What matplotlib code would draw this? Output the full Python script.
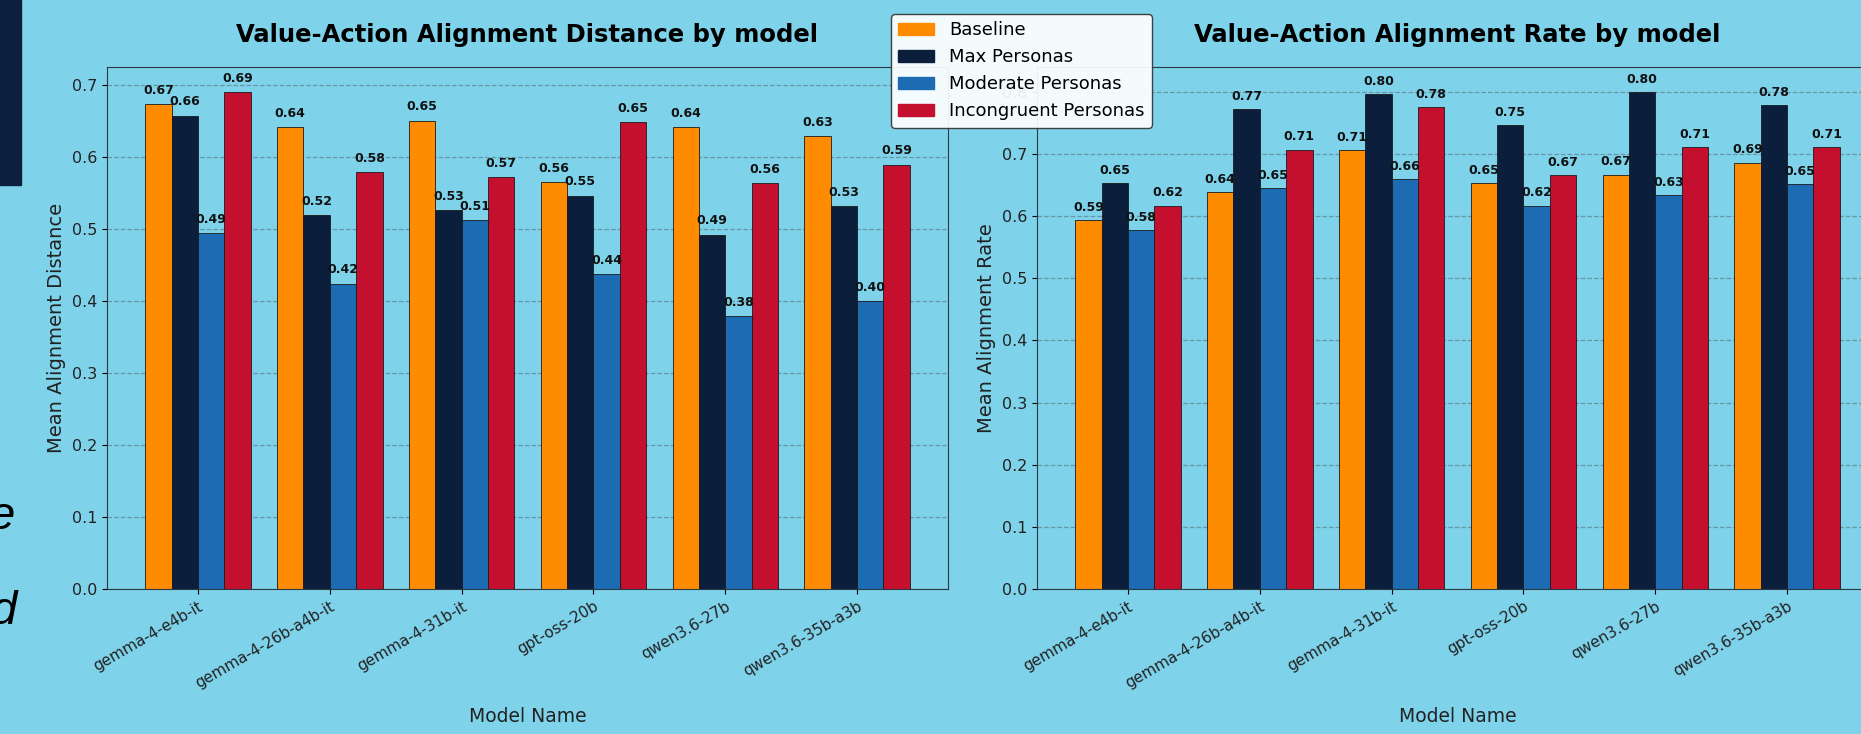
import matplotlib
matplotlib.use("Agg")
import matplotlib.pyplot as plt
from matplotlib.patches import Patch, Rectangle
import numpy as np

models = ["gemma-4-e4b-it", "gemma-4-26b-a4b-it", "gemma-4-31b-it",
          "gpt-oss-20b", "qwen3.6-27b", "qwen3.6-35b-a3b"]
series = ["Baseline", "Max Personas", "Moderate Personas", "Incongruent Personas"]
colors = ["#ff8c00", "#0b1f3c", "#1c6bb3", "#c40f2e"]

# mean alignment distance
dist_baseline = [0.673, 0.641, 0.650, 0.565, 0.641, 0.629]
dist_max = [0.657, 0.519, 0.526, 0.546, 0.492, 0.531]
dist_moderate = [0.494, 0.424, 0.512, 0.437, 0.379, 0.400]
dist_incong = [0.690, 0.579, 0.572, 0.648, 0.563, 0.589]

# mean alignment rate
rate_baseline = [0.594, 0.639, 0.706, 0.653, 0.667, 0.686]
rate_max = [0.653, 0.772, 0.797, 0.747, 0.800, 0.779]
rate_moderate = [0.578, 0.645, 0.659, 0.617, 0.634, 0.651]
rate_incong = [0.617, 0.707, 0.776, 0.666, 0.711, 0.711]

bg = "#7ed2ea"
W, H = 1861, 734

fig = plt.figure(figsize=(W / 100, H / 100), dpi=100, facecolor=bg)

# bits of the slide around the chart
fig.patches.append(Rectangle((0, 1 - 185 / H), 21 / W, 185 / H,
                             transform=fig.transFigure, color="#0c1f3f", zorder=5))
fig.text(15 / W, 1 - 529 / H, "e", ha="right", va="baseline", fontsize=34,
         style="italic", family="Liberation Sans", color="black")
fig.text(17 / W, 1 - 624 / H, "d", ha="right", va="baseline", fontsize=34,
         style="italic", family="Liberation Sans", color="black")


def draw_panel(ax, data, title, ylabel):
    x = np.arange(len(models))
    w = 0.2
    for i, vals in enumerate(data):
        bars = ax.bar(x + (i - 1.5) * w, vals, w, color=colors[i],
                      edgecolor="#1a1a1a", linewidth=0.6, label=series[i])
        for b, v in zip(bars, vals):
            ax.text(b.get_x() + b.get_width() / 2, v + 0.01, f"{v:.2f}",
                    ha="center", va="bottom", fontsize=9, fontweight="bold",
                    color="#111111")
    ax.set_facecolor(bg)
    ax.set_xticks(x)
    ax.set_xticklabels(models, rotation=30, ha="right", rotation_mode="anchor",
                       fontsize=11, color="#222222")
    ax.tick_params(axis="y", labelsize=11.5, labelcolor="#222222")
    ax.yaxis.grid(True, linestyle="--", color="#55666e", alpha=0.55, linewidth=0.9)
    ax.set_axisbelow(True)
    ax.set_title(title, fontsize=17.5, fontweight="bold", pad=18)
    ax.set_xlabel("Model Name", fontsize=13.5, color="#222222", labelpad=12)
    ax.set_ylabel(ylabel, fontsize=14, color="#222222")
    for s in ax.spines.values():
        s.set_color("#2a3a44")


ax1 = fig.add_axes([107 / W, 1 - 589 / H, 841 / W, 522 / H])
ax2 = fig.add_axes([1037 / W, 1 - 589 / H, 841 / W, 522 / H])

draw_panel(ax1, [dist_baseline, dist_max, dist_moderate, dist_incong],
           "Value-Action Alignment Distance by model", "Mean Alignment Distance")
draw_panel(ax2, [rate_baseline, rate_max, rate_moderate, rate_incong],
           "Value-Action Alignment Rate by model", "Mean Alignment Rate")

handles = [Patch(facecolor=c, edgecolor=c, label=s) for c, s in zip(colors, series)]
leg = fig.legend(handles=handles, loc="upper left", borderaxespad=0,
                 bbox_to_anchor=(891 / W, 1 - 14 / H), fontsize=13,
                 framealpha=0.92, facecolor="white", edgecolor="#333333")
leg.set_zorder(10)

fig.savefig("out.png", dpi=100, facecolor=bg)
